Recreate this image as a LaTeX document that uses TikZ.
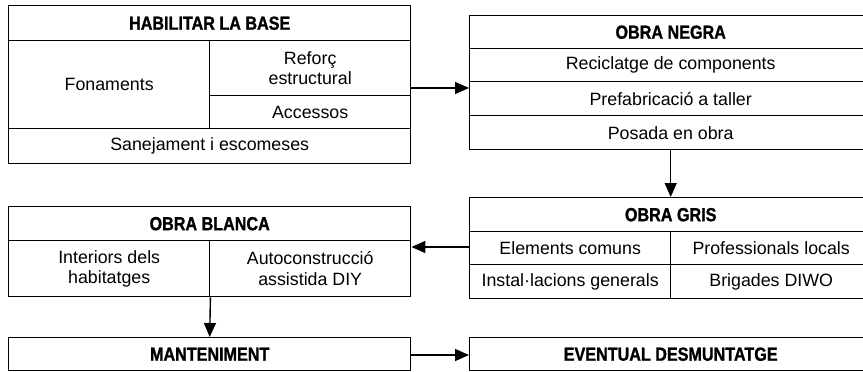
\documentclass[tikz,border=0pt]{standalone}
\usepackage{fontspec}
\setmainfont{Liberation Sans}
\newfontfamily\titlefont[FakeStretch=0.85,FakeBold=1.2]{Liberation Sans Bold}
\usetikzlibrary{arrows.meta}
\tikzset{
  cell/.style={draw=black, line width=1.4pt, inner sep=0pt, align=center, anchor=north west,
    minimum height=#1, font=\fontsize{17.8}{20.5}\selectfont},
  cell/.default=33pt,
  ttl/.style={cell=#1, font=\titlefont\fontsize{19}{22}\selectfont},
  ttl/.default=34pt,
  full/.style={minimum width=402pt},
  half/.style={minimum width=201pt},
  arr/.style={line width=1.4pt, -{Triangle[length=14pt,width=12pt]}}
}
\begin{document}
\begin{tikzpicture}[x=1pt,y=-1pt]
\useasboundingbox (0,0) rectangle (863,372);
\clip (0,0) rectangle (863,372);
\fill[white] (0,0) rectangle (863,372);
% HABILITAR LA BASE
\node[ttl=35pt, full] (habT) at (8,5) {HABILITAR LA BASE};
\node[cell=88pt, half] (habF) at (8,40) {Fonaments};
\node[cell=55pt, half] (habR) at (209,40) {Reforç\\estructural};
\node[cell=33pt, half] (habA) at (209,95) {Accessos};
\node[cell=35pt, full] (habS) at (8,128) {Sanejament i escomeses};
% OBRA NEGRA
\node[ttl=33pt, full] (negT) at (469,15) {OBRA NEGRA};
\node[cell=33pt, full] (negR) at (469,48) {Reciclatge de components};
\node[cell=34pt, full] (negP) at (469,81) {Prefabricació a taller};
\node[cell=34pt, full] (negO) at (469,115) {Posada en obra};
% OBRA GRIS
\node[ttl=34pt, full] (grisT) at (469,197) {OBRA GRIS};
\node[cell=33pt, half] (grisE) at (469,231) {Elements comuns};
\node[cell=33pt, half] (grisP) at (670,231) {Professionals locals};
\node[cell=34pt, half] (grisI) at (469,264) {Instal·lacions generals};
\node[cell=34pt, half] (grisB) at (670,264) {Brigades DIWO};
% OBRA BLANCA
\node[ttl=34pt, full] (blaT) at (8,206) {OBRA BLANCA};
\node[cell=56pt, half] (blaI) at (8,240) {Interiors dels\\habitatges};
\node[cell=56pt, half] (blaA) at (209,240) {Autoconstrucció\\assistida DIY};
% MANTENIMENT / EVENTUAL
\node[ttl=33pt, full] (mant) at (8,337) {MANTENIMENT};
\node[ttl=33pt, full] (even) at (469,337) {EVENTUAL DESMUNTATGE};
% connectors
\draw[arr] (habR.east |- 0,88) -- (negP.west |- 0,88);
\draw[arr] (negO.south) -- (grisT.north);
\draw[arr] (grisE.west |- 0,247) -- (blaA.east |- 0,247);
\draw[arr] (blaI.south east) -- (mant.north);
\draw[arr] (mant.east |- 0,355) -- (even.west |- 0,355);
\end{tikzpicture}
\end{document}
